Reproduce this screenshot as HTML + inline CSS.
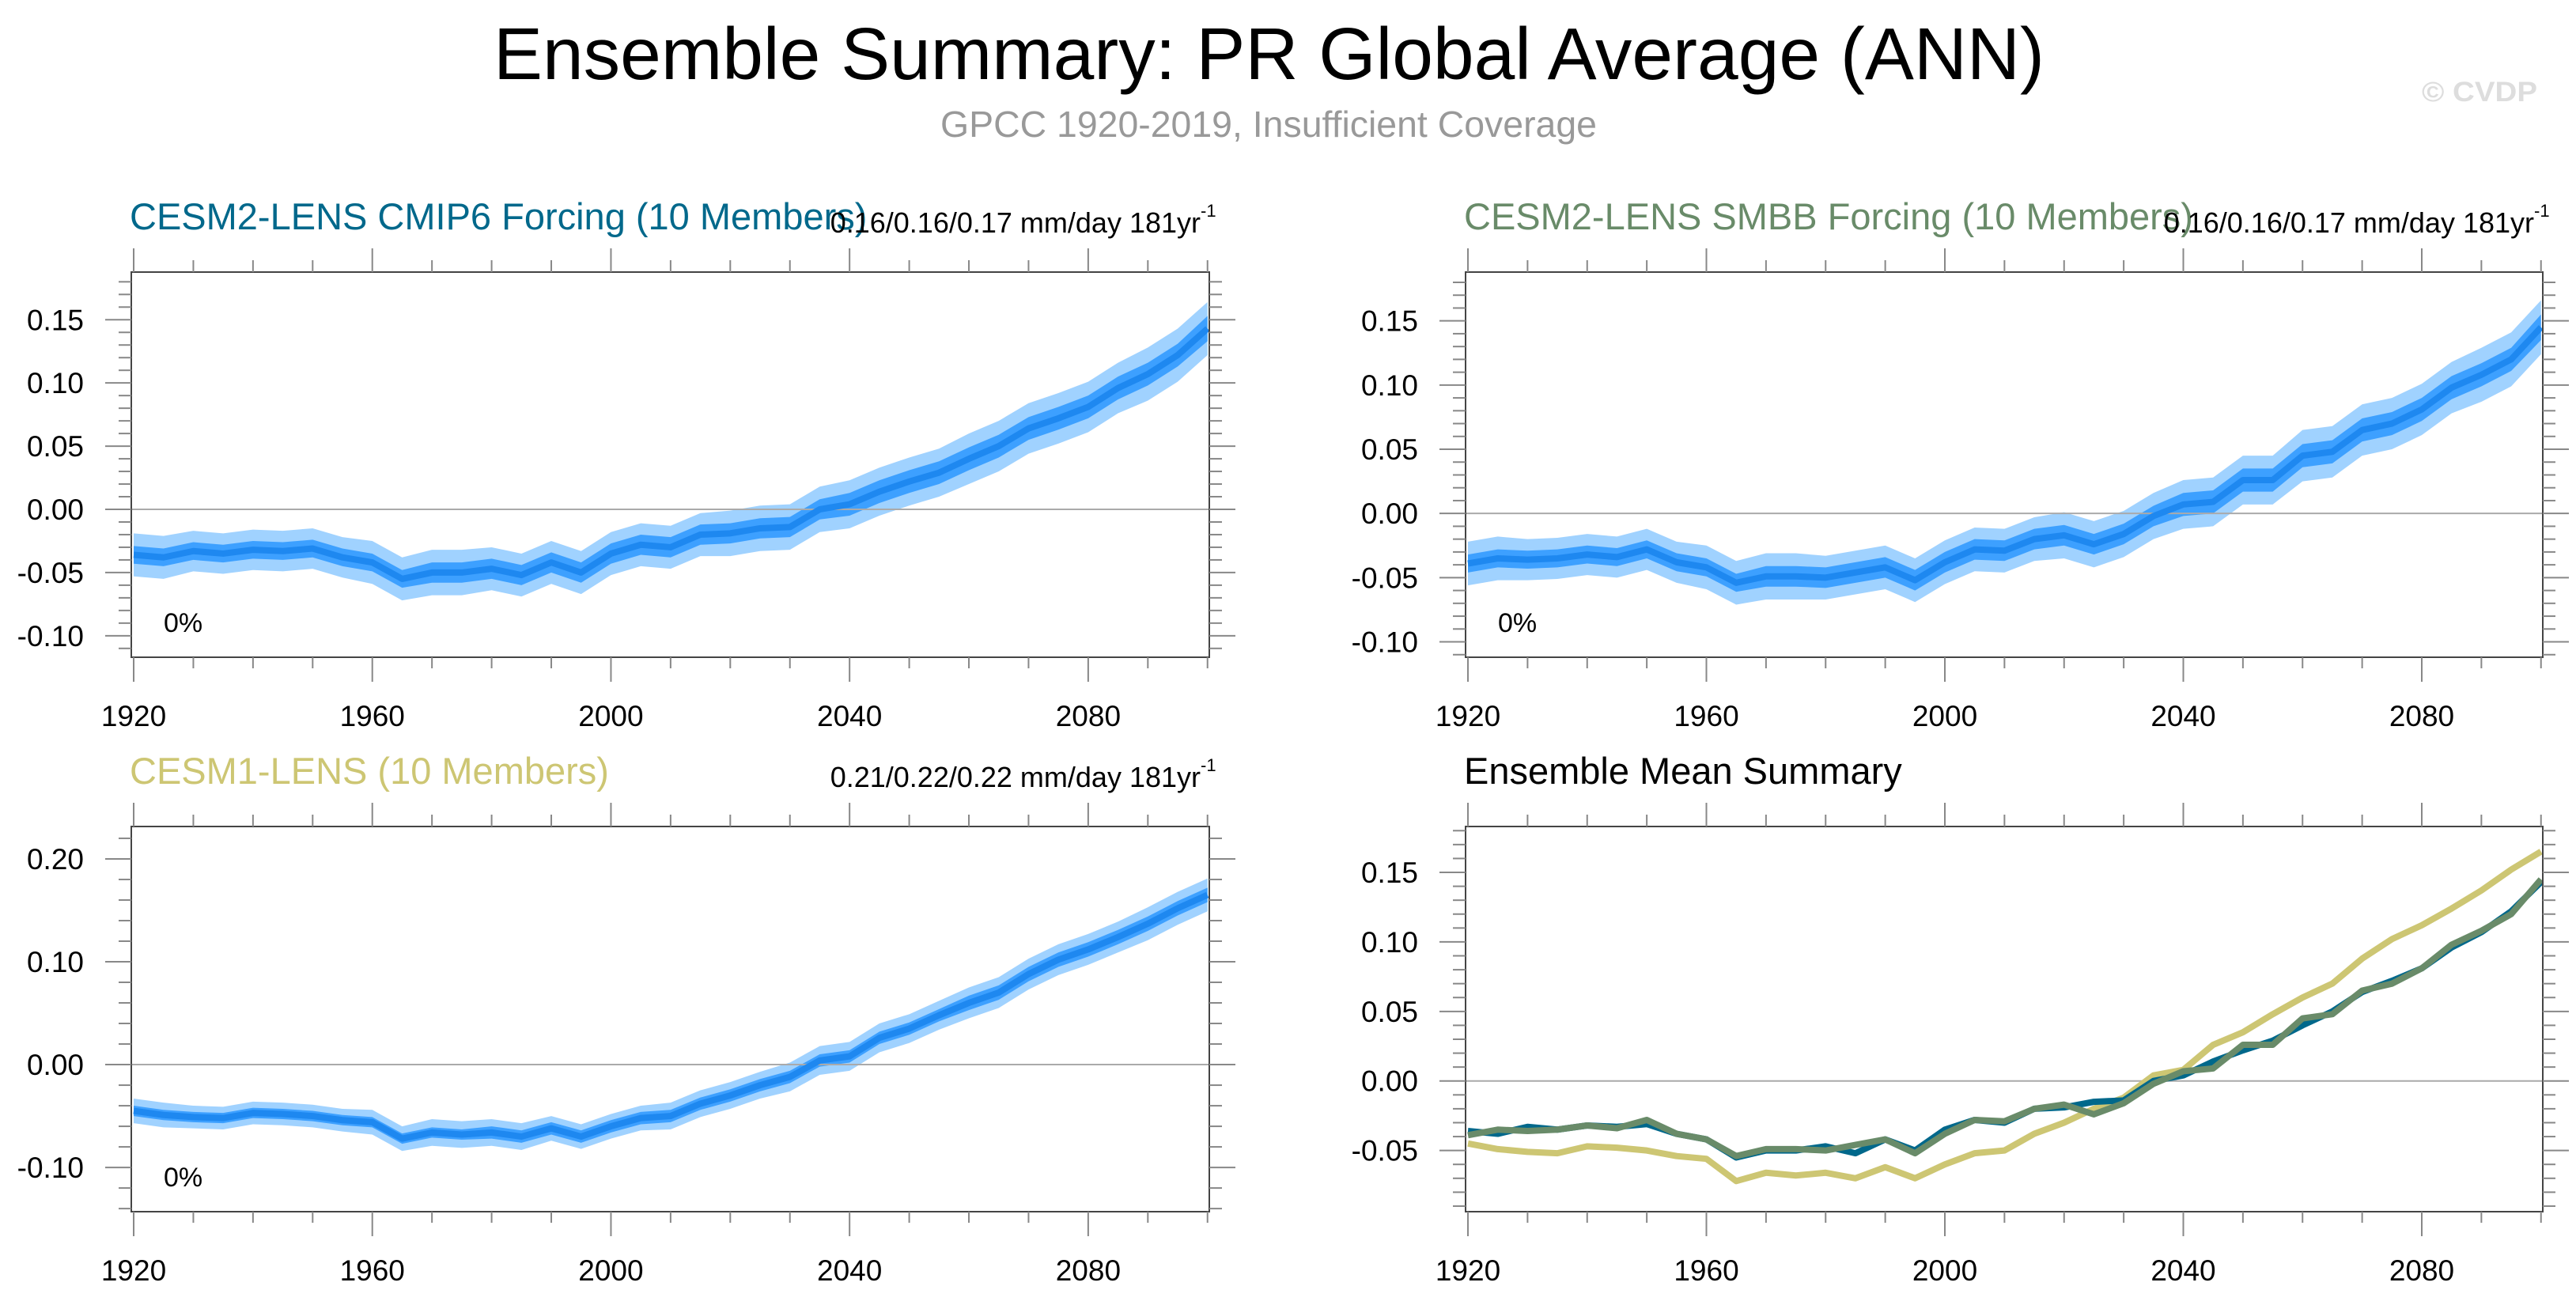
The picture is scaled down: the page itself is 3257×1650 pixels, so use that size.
<!DOCTYPE html>
<html><head><meta charset="utf-8">
<style>
html,body{margin:0;padding:0;background:#fff;}
svg{display:block;font-family:"Liberation Sans",sans-serif;}
</style></head>
<body>
<svg id="fig" width="3257" height="1650" viewBox="0 0 3257 1650" xmlns="http://www.w3.org/2000/svg">
<text x="624" y="100" font-size="93" textLength="1961" lengthAdjust="spacingAndGlyphs">Ensemble Summary: PR Global Average (ANN)</text>
<text x="1189" y="173" font-size="46" fill="#999" textLength="830" lengthAdjust="spacingAndGlyphs">GPCC 1920-2019, Insufficient Coverage</text>
<text x="3062" y="128" font-size="35" font-weight="bold" fill="#ddd" textLength="146" lengthAdjust="spacingAndGlyphs">© CVDP</text>
<g id="plots"></g>
</svg>
<script>
const years = [1920,1925,1930,1935,1940,1945,1950,1955,1960,1965,1970,1975,1980,1985,1990,1995,2000,2005,2010,2015,2020,2025,2030,2035,2040,2045,2050,2055,2060,2065,2070,2075,2080,2085,2090,2095,2100];
const cmip6Mean = [-0.036,-0.038,-0.033,-0.035,-0.032,-0.033,-0.031,-0.038,-0.042,-0.055,-0.050,-0.050,-0.047,-0.052,-0.042,-0.050,-0.035,-0.028,-0.030,-0.020,-0.019,-0.015,-0.014,0.000,0.004,0.014,0.022,0.029,0.040,0.050,0.064,0.072,0.081,0.096,0.107,0.122,0.143];
const smbbMean = [-0.039,-0.035,-0.036,-0.035,-0.032,-0.034,-0.028,-0.038,-0.042,-0.054,-0.049,-0.049,-0.050,-0.046,-0.042,-0.052,-0.038,-0.028,-0.029,-0.020,-0.017,-0.024,-0.016,-0.002,0.007,0.009,0.026,0.026,0.045,0.048,0.065,0.070,0.081,0.098,0.108,0.120,0.145];
const cesm1Mean = [-0.045,-0.049,-0.051,-0.052,-0.047,-0.048,-0.050,-0.054,-0.056,-0.072,-0.066,-0.068,-0.066,-0.070,-0.062,-0.070,-0.060,-0.052,-0.050,-0.038,-0.030,-0.020,-0.012,0.004,0.008,0.026,0.035,0.048,0.060,0.070,0.088,0.102,0.112,0.124,0.137,0.152,0.165];
const cesm2InnerSpread = [0.007,0.007,0.007,0.007,0.007,0.008,0.008,0.008,0.008,0.008,0.008,0.008,0.009,0.009,0.009,0.009,0.009,0.009,0.010];
const cesm2OuterSpread = [0.017,0.016,0.016,0.016,0.017,0.018,0.017,0.017,0.017,0.017,0.018,0.018,0.019,0.019,0.020,0.020,0.020,0.021,0.021];
const cesm1InnerSpread = [0.005,0.005,0.005,0.005,0.005,0.005,0.006,0.006,0.006,0.006,0.006,0.006,0.006,0.006,0.007,0.007,0.007,0.007,0.007];
const cesm1OuterSpread = [0.012,0.011,0.011,0.011,0.012,0.013,0.013,0.012,0.012,0.013,0.013,0.014,0.014,0.014,0.015,0.015,0.015,0.016,0.016];
const xTickLabels = ["1920","1960","2000","2040","2080"];

const NS="http://www.w3.org/2000/svg";
const root=document.getElementById('plots');
function mk(tag,attrs,parent){const e=document.createElementNS(NS,tag);for(const k in attrs)e.setAttribute(k,attrs[k]);(parent||root).appendChild(e);return e;}

function panel(cfg){
  const g=mk('g',{});
  
  
  const X=v=>cfg.x0+(v-1919.6)/(2100.3-1919.6)*(cfg.x1-cfg.x0);
  const Y=v=>cfg.y1-(v-cfg.ymin)/(cfg.ymax-cfg.ymin)*(cfg.y1-cfg.y0);
  const sp=(arr,i)=>arr[Math.min(arr.length-1,Math.floor(i/2))];
  if(cfg.mean && cfg.outer){
    [[cfg.outer,'#a0d2ff','outer-band'],[cfg.inner,'#3da0ff','inner-band']].forEach(([arr,col,nm])=>{
      let up=years.map((y,i)=>X(y)+','+Y(cfg.mean[i]+sp(arr,i)));
      let lo=years.map((y,i)=>X(y)+','+Y(cfg.mean[i]-sp(arr,i))).reverse();
      const p=mk('polygon',{points:up.concat(lo).join(' '),fill:col},g);
      
      
    });
  }
  const z=mk('line',{x1:cfg.x0,x2:cfg.x1,y1:Y(0),y2:Y(0),stroke:'#aaa','stroke-width':2},g);
  
  
  cfg.series.forEach(s=>{
    const l=mk('polyline',{points:years.map((y,i)=>X(y)+','+Y(s.vals[i])).join(' '),fill:'none',stroke:s.col,'stroke-width':8,'stroke-linejoin':'round'},g);
    
    
  });
  const b=mk('rect',{x:cfg.x0,y:cfg.y0,width:cfg.x1-cfg.x0,height:cfg.y1-cfg.y0,fill:'none',stroke:'#444','stroke-width':2},g);
  
  
  const tg=mk('g',{stroke:'#888','stroke-width':2},g);
  
  
  for(let v=Math.ceil(cfg.ymin/cfg.minor-1e-6)*cfg.minor; v<=cfg.ymax; v+=cfg.minor){
    const isMaj=Math.abs(Math.round(v/cfg.major)*cfg.major-v)<1e-6;
    const L=isMaj?33:16, y=Y(v);
    mk('line',{x1:cfg.x0-L,x2:cfg.x0,y1:y,y2:y},tg);
    mk('line',{x1:cfg.x1,x2:cfg.x1+L,y1:y,y2:y},tg);
  }
  cfg.yLabels.forEach(t=>{
    const e=mk('text',{x:cfg.x0-60,y:Y(parseFloat(t))+13,'font-size':37,'text-anchor':'end'},g);
    e.textContent=t;
    
    
  });
  for(let yr=1920;yr<=2100;yr+=10){
    const isMaj=(yr-1920)%40===0, x=X(yr);
    mk('line',{x1:x,x2:x,y1:cfg.y0-(isMaj?30:15),y2:cfg.y0},tg);
    mk('line',{x1:x,x2:x,y1:cfg.y1,y2:cfg.y1+(isMaj?31:14)},tg);
  }
  xTickLabels.forEach(t=>{
    const e=mk('text',{x:X(+t),y:cfg.y1+87,'font-size':37,'text-anchor':'middle'},g);
    e.textContent=t;
    
    
  });
  const ti=mk('text',{x:cfg.x0-2,y:cfg.y0-54,'font-size':47,fill:cfg.tcol},g);
  ti.textContent=cfg.title;
  
  
  if(cfg.rtext){
    const r=mk('text',{x:cfg.x1-11,y:cfg.y0-50,'font-size':36,'text-anchor':'end'},g);
    r.textContent=cfg.rtext;
    
    
    const s=mk('text',{x:cfg.x1-11,y:cfg.y0-70,'font-size':22},g);
    s.textContent='-1';
    
    
  }
  if(cfg.pct){
    const p=mk('text',{x:cfg.x0+41,y:cfg.y1-32,'font-size':34},g);
    p.textContent='0%';
    
    
  }
}
const ylab5=["0.15","0.10","0.05","0.00","-0.05","-0.10"];
panel({name:'panel-cesm2-cmip6',x0:166,x1:1529,y0:344,y1:831,ymin:-0.117,ymax:0.1877,major:0.05,minor:0.01,yLabels:ylab5,
  mean:cmip6Mean,inner:cesm2InnerSpread,outer:cesm2OuterSpread,series:[{vals:cmip6Mean,col:'#1e88f0',name:'ensemble-mean-line'}],
  title:'CESM2-LENS CMIP6 Forcing (10 Members)',tcol:'#00688b',rtext:'0.16/0.16/0.17 mm/day 181yr',pct:true});
panel({name:'panel-cesm2-smbb',x0:1853,x1:3215,y0:344,y1:831,ymin:-0.112,ymax:0.188,major:0.05,minor:0.01,yLabels:ylab5,
  mean:smbbMean,inner:cesm2InnerSpread,outer:cesm2OuterSpread,series:[{vals:smbbMean,col:'#1e88f0',name:'ensemble-mean-line'}],
  title:'CESM2-LENS SMBB Forcing (10 Members)',tcol:'#698b69',rtext:'0.16/0.16/0.17 mm/day 181yr',pct:true});
panel({name:'panel-cesm1',x0:166,x1:1529,y0:1045,y1:1532,ymin:-0.143,ymax:0.2315,major:0.1,minor:0.02,yLabels:["0.20","0.10","0.00","-0.10"],
  mean:cesm1Mean,inner:cesm1InnerSpread,outer:cesm1OuterSpread,series:[{vals:cesm1Mean,col:'#1e88f0',name:'ensemble-mean-line'}],
  title:'CESM1-LENS (10 Members)',tcol:'#cdc673',rtext:'0.21/0.22/0.22 mm/day 181yr',pct:true});
panel({name:'panel-ensemble-mean-summary',x0:1853,x1:3215,y0:1045,y1:1532,ymin:-0.094,ymax:0.183,major:0.05,minor:0.01,yLabels:["0.15","0.10","0.05","0.00","-0.05"],
  series:[{vals:cesm1Mean,col:'#cdc673',name:'cesm1-mean-line'},{vals:cmip6Mean,col:'#00688b',name:'cmip6-mean-line'},{vals:smbbMean,col:'#698b69',name:'smbb-mean-line'}],
  title:'Ensemble Mean Summary',tcol:'#000'});
</script>
</body></html>
